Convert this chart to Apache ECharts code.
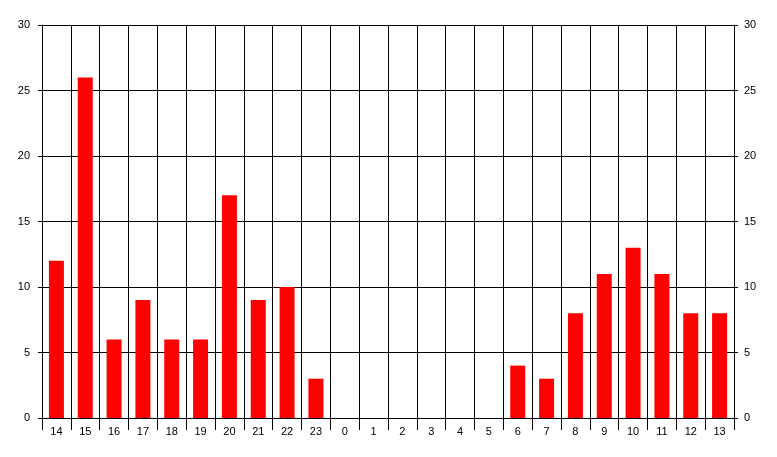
<!DOCTYPE html>
<html>
<head>
<meta charset="utf-8">
<script src="https://cdn.jsdelivr.net/npm/echarts@6/dist/echarts.min.js"></script>
<style>
  html, body { margin: 0; padding: 0; background: #fff; }
  #chart { width: 777px; height: 457px; }
</style>
</head>
<body>
<div id="chart"></div>
<script>
var hours = ["14", "15", "16", "17", "18", "19", "20", "21", "22", "23", "0", "1",
  "2", "3", "4", "5", "6", "7", "8", "9", "10", "11", "12", "13"];
var counts = [12, 26, 6, 9, 6, 6, 17, 9, 10, 3, 0, 0, 0, 0, 0, 0, 4, 3, 8, 11, 13, 11, 8, 8];

var chart = echarts.init(document.getElementById("chart"));

var yAxisBase = {
  type: "value",
  min: 0,
  max: 30,
  interval: 5,
  axisLine: { show: true, lineStyle: { color: "#000", width: 1 } },
  axisTick: { show: true, length: 4, lineStyle: { color: "#000" } },
  splitLine: { show: true, lineStyle: { color: "#000", width: 1 } },
  axisLabel: { color: "#000", fontSize: 11, fontFamily: "Liberation Sans" }
};

chart.setOption({
  animation: false,
  grid: { left: 42, right: 43, top: 25, bottom: 39 },
  xAxis: {
    type: "category",
    data: hours,
    axisLine: { show: true, lineStyle: { color: "#000" } },
    axisTick: { show: true, alignWithLabel: false, interval: 0, length: 12, lineStyle: { color: "#000", width: 1 } },
    splitLine: { show: true, interval: 0, lineStyle: { color: "#000", width: 1 } },
    axisLabel: { color: "#000", fontSize: 11, fontFamily: "Liberation Sans", margin: 8, interval: 0 }
  },
  yAxis: [
    Object.assign({}, yAxisBase, { position: "left", axisLabel: Object.assign({}, yAxisBase.axisLabel, { margin: 12 }) }),
    Object.assign({}, yAxisBase, { position: "right", axisLabel: Object.assign({}, yAxisBase.axisLabel, { margin: 10 }) })
  ],
  series: [{
    type: "bar",
    data: counts,
    barWidth: "52%",
    itemStyle: { color: "#ff0000" }
  }]
});
</script>
</body>
</html>
